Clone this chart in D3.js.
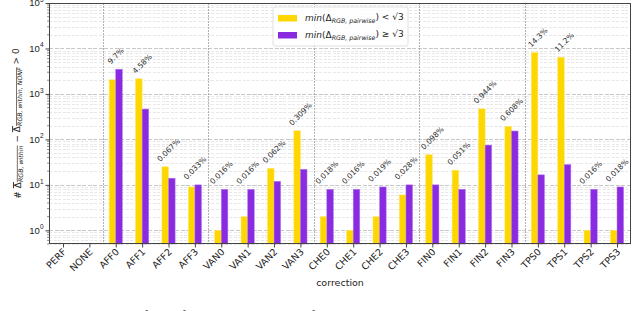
<!DOCTYPE html>
<html>
<head>
<meta charset="utf-8">
<script src="https://cdn.jsdelivr.net/npm/d3@7"></script>
<style>
  body { margin: 0; background: #fff; }
  svg { display: block; font-family: "DejaVu Sans", sans-serif; }
  .grid line { shape-rendering: crispEdges; }
</style>
</head>
<body>
<svg width="640" height="311"></svg>
<script>
var categories = ["PERF", "NONE", "AFF0", "AFF1", "AFF2", "AFF3", "VAN0", "VAN1", "VAN2", "VAN3",
  "CHE0", "CHE1", "CHE2", "CHE3", "FIN0", "FIN1", "FIN2", "FIN3", "TPS0", "TPS1", "TPS2", "TPS3"];
// min pairwise < sqrt(3)
var below = [null, null, 2050, 2150, 25, 9, 1, 2, 23, 155, 2, 1, 2, 6, 46, 21, 470, 193, 8100, 6400, 1, 1];
// min pairwise >= sqrt(3)
var above = [null, null, 3500, 465, 14, 10, 8, 8, 12, 22, 8, 8, 9, 10, 10, 8, 75, 153, 16.6, 28, 8, 9];
var percents = [null, null, "9.7%", "4.58%", "0.067%", "0.033%", "0.016%", "0.016%", "0.062%", "0.309%",
  "0.018%", "0.016%", "0.019%", "0.028%", "0.098%", "0.051%", "0.944%", "0.608%", "14.3%", "11.2%", "0.016%", "0.018%"];
var groupBreaks = ["NONE", "AFF3", "VAN3", "CHE3", "FIN3"];
var yTicks = [1, 10, 100, 1000, 10000, 100000];

(function () {
  var x0 = 49, x1 = 631, y0 = 3, y1 = 244;
  var svg = d3.select("svg");

  var x = d3.scalePoint().domain(categories).range([x0, x1]).padding(0.53);
  var y = d3.scaleLog().domain([0.5, 1e5]).range([y1, y0]);
  var step = x.step();
  var bw = step * 0.25;

  // horizontal grid, major and minor
  var minor = [];
  for (var e = -1; e < 5; e++) {
    for (var k = 2; k < 10; k++) {
      var v = k * Math.pow(10, e);
      if (v >= 0.5 && v <= 1e5) minor.push(v);
    }
  }
  var grid = svg.append("g").attr("class", "grid");
  grid.selectAll(".minor").data(minor).enter().append("line")
    .attr("x1", x0).attr("x2", x1)
    .attr("y1", d => Math.round(y(d)) + 0.5).attr("y2", d => Math.round(y(d)) + 0.5)
    .attr("stroke", "#e2e2e2").attr("stroke-width", 0.8).attr("stroke-dasharray", "3,1.5");
  grid.selectAll(".major").data(yTicks).enter().append("line")
    .attr("x1", x0).attr("x2", x1)
    .attr("y1", d => Math.round(y(d)) + 0.5).attr("y2", d => Math.round(y(d)) + 0.5)
    .attr("stroke", "#c8c8c8").attr("stroke-width", 1).attr("stroke-dasharray", "4,1.5");

  // group separators
  grid.selectAll(".sep").data(groupBreaks).enter().append("line")
    .attr("x1", d => Math.round(x(d) + step / 2) + 0.5).attr("x2", d => Math.round(x(d) + step / 2) + 0.5)
    .attr("y1", y0).attr("y2", y1)
    .attr("stroke", "#a0a0a0").attr("stroke-width", 0.8).attr("stroke-dasharray", "1.5,1.5");

  // bars
  var idx = d3.range(categories.length);
  svg.append("g").selectAll("rect").data(idx.filter(i => below[i] != null)).enter().append("rect")
    .attr("x", i => x(categories[i]) - bw).attr("width", bw)
    .attr("y", i => y(below[i])).attr("height", i => y1 - y(below[i]))
    .attr("fill", "#ffd700").attr("stroke", "#ffe866").attr("stroke-width", 0.5);
  svg.append("g").selectAll("rect").data(idx.filter(i => above[i] != null)).enter().append("rect")
    .attr("x", i => x(categories[i])).attr("width", bw)
    .attr("y", i => y(above[i])).attr("height", i => y1 - y(above[i]))
    .attr("fill", "#8a2be2").attr("stroke", "#b27cf0").attr("stroke-width", 0.5);

  // percentage labels
  var fs = 7.5;
  svg.append("g").selectAll("text").data(idx.filter(i => percents[i] != null)).enter().append("text")
    .attr("font-size", fs).attr("fill", "#2a2a2a").attr("text-anchor", "middle")
    .attr("dy", "0.35em")
    .text(i => percents[i])
    .each(function (i) {
      var L = this.getComputedTextLength();
      var half = (L + fs * 1.0) * Math.SQRT1_2 / 2;
      var cx = x(categories[i]);
      var cy = y(Math.max(below[i], above[i])) - 4 - half;
      d3.select(this).attr("transform", "translate(" + cx + "," + cy + ") rotate(-45)");
    });

  // frame
  svg.append("rect").attr("x", x0 + 0.5).attr("y", y0 + 0.5)
    .attr("width", x1 - x0 - 1).attr("height", y1 - y0 - 1)
    .attr("fill", "none").attr("stroke", "#444").attr("stroke-width", 1);

  // x axis
  var xAxis = svg.append("g").attr("transform", "translate(0," + y1 + ")")
    .call(d3.axisBottom(x).tickSize(3.5).tickSizeOuter(0));
  xAxis.select(".domain").remove();
  xAxis.selectAll("line").attr("stroke", "#444");
  xAxis.selectAll("text")
    .attr("font-size", 9.5).attr("fill", "#222").attr("font-family", "DejaVu Sans")
    .attr("text-anchor", "end").attr("dy", null).attr("y", 0)
    .attr("transform", "translate(3.5,8.5) rotate(-45)");

  // y axis
  var yAxis = svg.append("g").attr("transform", "translate(" + x0 + ",0)")
    .call(d3.axisLeft(y).tickValues(yTicks).tickSize(3.5).tickFormat(""));
  yAxis.select(".domain").remove();
  yAxis.selectAll("line").attr("stroke", "#444");
  yAxis.append("g").selectAll("line").data(minor).enter().append("line")
    .attr("x1", -2).attr("x2", 0).attr("y1", d => y(d)).attr("y2", d => y(d))
    .attr("stroke", "#444").attr("stroke-width", 0.6);
  var yl = yAxis.append("g").selectAll("text").data(yTicks).enter().append("text")
    .attr("x", -5.5).attr("y", d => y(d)).attr("dy", "0.35em")
    .attr("text-anchor", "end").attr("font-size", 9.5).attr("fill", "#222");
  yl.append("tspan").text("10");
  yl.append("tspan").attr("dy", "-0.7em").attr("font-size", 6.5).text(d => Math.round(Math.log10(d)));

  // y label
  var ylab = svg.append("text").attr("transform", "translate(21," + (y0 + y1) / 2 + ") rotate(-90)")
    .attr("text-anchor", "middle").attr("font-size", 9).attr("fill", "#222");
  ylab.append("tspan").text("# ");
  ylab.append("tspan").style("text-decoration", "overline").text("Δ");
  ylab.append("tspan").attr("font-size", 6.3).attr("dy", "0.3em").style("font-style", "italic").style("text-decoration", "overline").text("RGB, within");
  ylab.append("tspan").attr("dy", "-0.3em").text(" − ");
  ylab.append("tspan").style("text-decoration", "overline").text("Δ");
  ylab.append("tspan").attr("font-size", 6.3).attr("dy", "0.3em").style("font-style", "italic").style("text-decoration", "overline").text("RGB, within, NONF");
  ylab.append("tspan").attr("dy", "-0.3em").text(" > 0");

  // x label
  svg.append("text").attr("x", (x0 + x1) / 2).attr("y", 286)
    .attr("text-anchor", "middle").attr("font-size", 9.5).attr("fill", "#222").text("correction");

  // legend
  var lg = svg.append("g").attr("transform", "translate(273,7)");
  lg.append("rect").attr("width", 135).attr("height", 39).attr("rx", 2)
    .attr("fill", "#fff").attr("fill-opacity", 0.85).attr("stroke", "#d8d8d8").attr("stroke-width", 0.8);
  var entries = [{ c: "#ffd700", op: "<" }, { c: "#8a2be2", op: "≥" }];
  entries.forEach(function (d, i) {
    var gy = 11 + i * 17;
    lg.append("rect").attr("x", 5).attr("y", gy - 3).attr("width", 19).attr("height", 6.5).attr("fill", d.c);
    var t = lg.append("text").attr("x", 32).attr("y", gy).attr("dy", "0.35em")
      .attr("font-size", 9).attr("fill", "#222");
    t.append("tspan").style("font-style", "italic").text("min");
    t.append("tspan").text("(Δ");
    t.append("tspan").attr("font-size", 6.3).attr("dy", "0.3em").style("font-style", "italic").text("RGB, pairwise");
    t.append("tspan").attr("dy", "-0.3em").text(") " + d.op + " √3");
  });

  // caption (cut off at the bottom of the image)
  var cap = svg.append("text").attr("x", 1).attr("y", 321).attr("font-family", "Liberation Serif")
    .attr("font-size", 14).attr("fill", "#111").attr("textLength", 636).attr("lengthAdjust", "spacing");
  cap.append("tspan").attr("font-weight", "bold").text("Fig. 3:");
  cap.append("tspan").text(" An amount of the failed corrections for each correction method in this case. Failed");
})();
</script>
</body>
</html>
